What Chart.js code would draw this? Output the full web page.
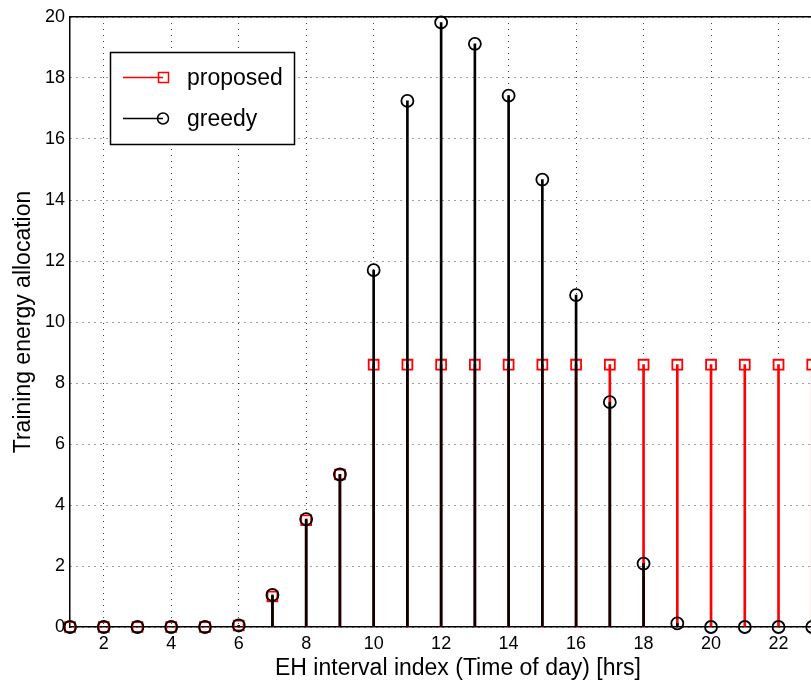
<!DOCTYPE html>
<html>
<head>
<meta charset="utf-8">
<script src="https://cdn.jsdelivr.net/npm/chart.js@4.4.1/dist/chart.umd.min.js"></script>
<style>
  html, body { margin: 0; padding: 0; background: #fff; overflow: hidden; }
  #wrap { width: 811px; height: 686px; overflow: hidden; }
</style>
</head>
<body>
<div id="wrap"><canvas id="myChart" width="870" height="686"></canvas></div>
<script>
// EH interval index (hour of day)
const hours = [1, 2, 3, 4, 5, 6, 7, 8, 9, 10, 11, 12, 13, 14, 15, 16, 17, 18, 19, 20, 21, 22, 23, 24];
const proposed = [0, 0, 0, 0, 0, 0.05, 1.0, 3.5, 5.0, 8.6, 8.6, 8.6, 8.6, 8.6, 8.6, 8.6, 8.6, 8.6, 8.6, 8.6, 8.6, 8.6, 8.6, 8.6];
const greedy = [0, 0, 0, 0, 0, 0.05, 1.05, 3.54, 5.0, 11.7, 17.25, 19.82, 19.12, 17.42, 14.67, 10.88, 7.37, 2.08, 0.12, 0, 0, 0, 0, 0];
const xTicks = [2, 4, 6, 8, 10, 12, 14, 16, 18, 20, 22, 24];
const seriesNames = ["proposed", "greedy"];

const FONT = "'Liberation Sans', Arial, Helvetica, sans-serif";

const toPoints = (vals) => hours.map((h, i) => ({ x: h, y: vals[i] }));

// MATLAB-style legend box inside the axes
const boxLegend = {
  id: "boxLegend",
  afterDraw(chart) {
    const ctx = chart.ctx;
    const x0 = 110.5, y0 = 52.5, w = 184, h = 92;
    ctx.save();
    ctx.fillStyle = "#fff";
    ctx.fillRect(x0, y0, w, h);
    ctx.strokeStyle = "#000";
    ctx.lineWidth = 1.5;
    ctx.strokeRect(x0, y0, w, h);

    const rows = [
      { y: 77.5, color: "red", style: "rect", label: seriesNames[0] },
      { y: 118.5, color: "black", style: "circle", label: seriesNames[1] },
    ];
    rows.forEach((r) => {
      ctx.strokeStyle = r.color;
      ctx.lineWidth = 1.5;
      ctx.beginPath();
      ctx.moveTo(123, r.y);
      ctx.lineTo(163, r.y);
      ctx.stroke();
      ctx.beginPath();
      if (r.style === "rect") {
        ctx.rect(158.5, r.y - 5, 10, 10);
      } else {
        ctx.arc(163, r.y, 5.5, 0, Math.PI * 2);
      }
      ctx.stroke();
      ctx.fillStyle = "#000";
      ctx.font = "23px " + FONT;
      ctx.textBaseline = "middle";
      ctx.fillText(r.label, 187, r.y + 1);
    });
    ctx.restore();
  },
};

const chartCanvas = document.getElementById("myChart");
new Chart(chartCanvas, {
  type: "bar",
  data: {
    datasets: [
      {
        label: "proposed stems",
        data: toPoints(proposed),
        backgroundColor: "red",
        borderWidth: 0,
        barThickness: 2,
        grouped: false,
        order: 4,
      },
      {
        type: "scatter",
        label: seriesNames[0],
        data: toPoints(proposed),
        pointStyle: "rect",
        pointRadius: 7,
        pointBorderWidth: 1.8,
        pointBorderColor: "red",
        pointBackgroundColor: "rgba(0,0,0,0)",
        showLine: false,
        clip: false,
        order: 3,
      },
      {
        label: "greedy stems",
        data: toPoints(greedy),
        backgroundColor: "black",
        borderWidth: 0,
        barThickness: 2,
        grouped: false,
        order: 2,
      },
      {
        type: "scatter",
        label: seriesNames[1],
        data: toPoints(greedy),
        pointStyle: "circle",
        pointRadius: 6,
        pointBorderWidth: 1.8,
        pointBorderColor: "black",
        pointBackgroundColor: "rgba(0,0,0,0)",
        showLine: false,
        clip: false,
        order: 1,
      },
    ],
  },
  options: {
    responsive: false,
    animation: false,
    layout: { padding: { top: 17, right: 24, left: 0, bottom: 0 } },
    plugins: {
      legend: { display: false },
      tooltip: { enabled: false },
    },
    scales: {
      x: {
        type: "linear",
        position: "bottom",
        offset: false,
        min: 1,
        max: 24,
        afterBuildTicks: (axis) => {
          axis.ticks = xTicks.map((v) => ({ value: v }));
        },
        afterFit: (s) => { s.height = 59; },
        ticks: {
          color: "#000",
          font: { family: FONT, size: 18 },
          padding: 6,
          maxRotation: 0,
          autoSkip: false,
        },
        grid: {
          color: "rgba(0,0,0,0.75)",
          lineWidth: 1,
          drawTicks: false,
          offset: false,
        },
        border: { display: true, color: "#000", width: 1.5, dash: [1, 5] },
        title: {
          display: true,
          text: "EH interval index (Time of day) [hrs]",
          color: "#000",
          font: { family: FONT, size: 23 },
          padding: { top: 0, bottom: 4 },
        },
      },
      x2: {
        type: "linear",
        position: "top",
        offset: false,
        min: 1,
        max: 24,
        afterFit: (s) => { s.height = 0; },
        ticks: { display: false },
        grid: { display: false },
        border: { display: true, color: "#000", width: 1.5 },
      },
      y: {
        min: 0,
        max: 20,
        afterFit: (s) => { s.width = 70; },
        ticks: {
          stepSize: 2,
          color: "#000",
          font: { family: FONT, size: 18 },
          padding: 5,
        },
        grid: {
          color: "rgba(0,0,0,0.75)",
          lineWidth: 1,
          drawTicks: false,
        },
        border: { display: true, color: "#000", width: 1.5, dash: [1, 5] },
        title: {
          display: true,
          text: "Training energy allocation",
          color: "#000",
          font: { family: FONT, size: 23 },
          padding: { top: 10, bottom: 0 },
        },
      },
    },
  },
  plugins: [boxLegend],
});
</script>
</body>
</html>
